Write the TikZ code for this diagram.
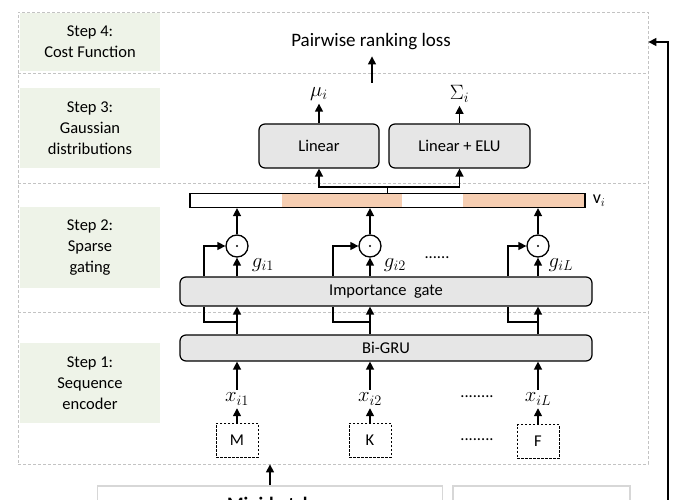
\documentclass[tikz,border=0pt]{standalone}
\usepackage{fontspec}
\setmainfont{Carlito}
\usetikzlibrary{arrows.meta, positioning, calc}
\definecolor{stepgreen}{RGB}{238,243,232}
\definecolor{boxgray}{RGB}{230,230,230}
\definecolor{peach}{RGB}{246,206,178}
\definecolor{framegray}{RGB}{195,195,195}
\definecolor{batchgray}{RGB}{215,215,215}
\tikzset{
    stepnode/.style = {fill=stepgreen, rectangle, minimum width=140, inner sep=0, align=center,
      font=\fontsize{16.5}{21}\selectfont},
    graynode/.style = {draw, fill=boxgray, rectangle, rounded corners=6, line width=1.2, inner sep=0,
      font=\fontsize{16.5}{20}\selectfont},
    barnode/.style = {draw, rectangle, line width=1.2, inner sep=0},
    dashnode/.style = {draw, rectangle, dashed, dash pattern=on 2.5pt off 1.5pt, line width=0.8,
      minimum width=42, minimum height=34, inner sep=0, font=\fontsize{16.5}{20}\selectfont},
    odotnode/.style = {draw, circle, line width=1.3, minimum size=22, inner sep=0,
      path picture={\fill (path picture bounding box.center) circle (1.1pt);}},
    textnode/.style = {draw=none, fill=none, rectangle, inner sep=0, font=\fontsize{16.5}{20}\selectfont},
    mathnode/.style = {draw=none, fill=none, rectangle, inner sep=3, font=\fontsize{20}{24}\selectfont},
    framenode/.style = {draw=framegray, dashed, dash pattern=on 3pt off 2pt, line width=0.8, inner sep=0},
    sepline/.style = {draw=framegray, dashed, dash pattern=on 3pt off 2pt, line width=0.8},
    batchnode/.style = {draw=batchgray, rectangle, line width=1.5, inner sep=0},
    connect/.style = {black, line width=1.4, -{Triangle[length=8pt, width=8pt]}},
    plain/.style = {black, line width=1.4}
}

\begin{document}
\begin{tikzpicture}[x=1pt, y=-1pt]
    \useasboundingbox (0,0) rectangle (680,500);
    \clip (0,0) rectangle (680,500);

    \node [framenode, minimum width=630, minimum height=452] (frame) at (333,238) {};
    \draw [sepline] (18,73) -- (648,73);
    \draw [sepline] (18,183) -- (648,183);
    \draw [sepline] (18,312) -- (648,312);

    \node [stepnode, minimum height=58] (step4) at (90,42) {Step 4:\\Cost Function};
    \node [stepnode, minimum height=80] (step3) at (90,128) {Step 3:\\Gaussian\\distributions};
    \node [stepnode, minimum height=81] (step2) at (90,247.5) {Step 2:\\Sparse\\gating};
    \node [stepnode, minimum height=80] (step1) at (90,383) {Step 1:\\Sequence\\encoder};

    % step 4
    \node [textnode, font=\fontsize{19}{23}\selectfont] (loss) at (371,42) {Pairwise ranking loss};
    \coordinate (lossin) at (372,83);
    \draw [connect, shorten >=6pt] (lossin) -- (lossin |- loss.south);

    % step 3
    \node [graynode, minimum width=120, minimum height=44] (lin) at (319,146) {Linear};
    \node [graynode, minimum width=141, minimum height=44] (linelu) at (459.5,146) {Linear + ELU};
    \node [mathnode] (mu) at (319,94) {$\mu_i$};
    \node [mathnode] (sig) at (459.5,94) {$\Sigma_i$};
    \draw [connect] (lin.north) -- (mu.south);
    \draw [connect] (linelu.north) -- (sig.south);

    % step 2
    \fill [peach] (282,193.5) rectangle (402,207.5);
    \fill [peach] (463,193.5) rectangle (585,207.5);
    \node [barnode, minimum width=395, minimum height=14] (vec) at (387.5,200.5) {};
    \node [textnode, font=\fontsize{18}{20}\selectfont, right=7pt of vec] (vlab) {v$_i$};
    \draw [connect] (vec.north) -- ++(0,-6) -| (lin.south);
    \draw [connect] (vec.north) -- ++(0,-6) -| (linelu.south);

    \node [graynode, minimum width=412, minimum height=29] (gate) at (386,291.5) {Importance\ \ gate};

    \node [odotnode] (dot1) at (237,246) {};
    \node [odotnode] (dot2) at (370,246) {};
    \node [odotnode] (dot3) at (538,246) {};
    \draw [connect] (dot1) -- (dot1 |- vec.south);
    \draw [connect] (dot2) -- (dot2 |- vec.south);
    \draw [connect] (dot3) -- (dot3 |- vec.south);
    \draw [connect] (dot1 |- gate.north) -- (dot1);
    \draw [connect] (dot2 |- gate.north) -- (dot2);
    \draw [connect] (dot3 |- gate.north) -- (dot3);

    \coordinate (skip1) at (204,322);
    \coordinate (skip2) at (333,322);
    \coordinate (skip3) at (508,322);
    \draw [connect] (skip1 |- gate.north) |- (dot1);
    \draw [connect] (skip2 |- gate.north) |- (dot2);
    \draw [connect] (skip3 |- gate.north) |- (dot3);

    \node [mathnode] (g1) at (263,265) {$g_{i1}$};
    \node [mathnode] (g2) at (395,265) {$g_{i2}$};
    \node [mathnode] (g3) at (561,265) {$g_{iL}$};
    \node [textnode] (gdots) at (437,258) {......};

    % step 1
    \node [graynode, minimum width=412, minimum height=26] (gru) at (386,348) {Bi-GRU};
    \draw [connect] (dot1 |- gru.north) -- (dot1 |- gate.south);
    \draw [connect] (dot2 |- gru.north) -- (dot2 |- gate.south);
    \draw [connect] (dot3 |- gru.north) -- (dot3 |- gate.south);
    \draw [plain] (dot1 |- skip1) -- (skip1) -- (skip1 |- gate.south);
    \draw [plain] (dot2 |- skip2) -- (skip2) -- (skip2 |- gate.south);
    \draw [plain] (dot3 |- skip3) -- (skip3) -- (skip3 |- gate.south);

    \node [mathnode] (x1) at (237,399) {$x_{i1}$};
    \node [mathnode] (x2) at (370,399) {$x_{i2}$};
    \node [mathnode] (x3) at (538,399) {$x_{iL}$};
    \draw [connect] (x1.north) -- (x1.north |- gru.south);
    \draw [connect] (x2.north) -- (x2.north |- gru.south);
    \draw [connect] (x3.north) -- (x3.north |- gru.south);
    \node [textnode] (xdots) at (477,397) {........};

    \node [dashnode] (tokM) at (237,440) {M};
    \node [dashnode] (tokK) at (370,440) {K};
    \node [dashnode] (tokF) at (538,441.5) {F};
    \draw [connect] (tokM) -- (x1);
    \draw [connect] (tokK) -- (x2);
    \draw [connect] (tokF) -- (x3);
    \node [textnode] (tokdots) at (477,440) {........};

    % input
    \node [batchnode, minimum width=345, minimum height=60, anchor=north] (batch) at (270,485) {};
    \node [batchnode, minimum width=177, minimum height=60, anchor=north] (other) at (541.5,485) {};
    \node [textnode, font=\bfseries\fontsize{19}{23}\selectfont, anchor=base] (batchtxt) at (270,510) {Mini-batch};
    \draw [connect] (batch.north) -- (batch.north |- frame.south);

    \coordinate (fb) at (668,505);
    \draw [connect] (fb) |- (frame.east |- loss);
\end{tikzpicture}
\end{document}
